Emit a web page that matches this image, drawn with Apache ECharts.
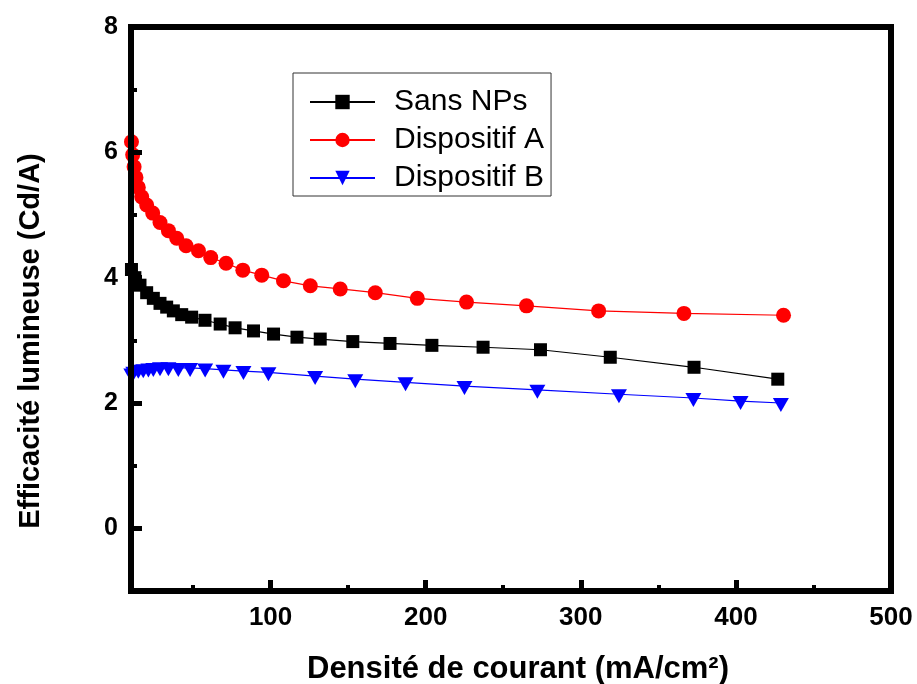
<!DOCTYPE html>
<html>
<head>
<meta charset="utf-8">
<script src="https://cdn.jsdelivr.net/npm/echarts@6/dist/echarts.min.js"></script>
<style>
html,body{margin:0;padding:0;background:#fff;}
#chart{width:917px;height:684px;}
</style>
</head>
<body>
<div id="chart"></div>
<script>
const seriesNames = ['Sans NPs', 'Dispositif A', 'Dispositif B'];

const sansNPs = [
  [10.3, 4.13], [12.5, 4.00], [15.8, 3.88], [20.1, 3.76], [24.4, 3.67], [28.7, 3.59],
  [33.0, 3.53], [37.3, 3.47], [42.7, 3.41], [49.1, 3.37], [57.7, 3.32], [67.5, 3.26],
  [77.1, 3.20], [89.0, 3.15], [101.9, 3.10], [117.0, 3.05], [132.0, 3.02], [153.0, 2.98],
  [177.0, 2.95], [204.0, 2.92], [237.0, 2.89], [274.0, 2.85], [319.0, 2.73], [373.0, 2.57],
  [427.0, 2.38]
];

const dispositifA = [
  [10.3, 6.17], [11.1, 5.96], [12.0, 5.77], [13.2, 5.60], [14.7, 5.44], [16.9, 5.29],
  [20.1, 5.16], [24.0, 5.03], [28.7, 4.88], [34.1, 4.75], [39.5, 4.63], [45.5, 4.51],
  [53.5, 4.43], [61.4, 4.32], [71.3, 4.23], [82.1, 4.12], [94.3, 4.04], [108.3, 3.95],
  [125.6, 3.87], [144.9, 3.82], [167.5, 3.76], [194.6, 3.67], [226.3, 3.61], [265.0, 3.55],
  [311.5, 3.47], [366.5, 3.43], [430.7, 3.40]
];

const dispositifB = [
  [10.2, 2.47], [11.5, 2.50], [14.7, 2.53], [17.9, 2.54], [21.2, 2.55], [24.4, 2.56],
  [28.7, 2.57], [34.1, 2.57], [40.5, 2.56], [48.1, 2.56], [57.8, 2.55], [69.6, 2.53],
  [82.5, 2.51], [98.6, 2.49], [128.7, 2.43], [154.6, 2.38], [187.0, 2.33], [225.0, 2.27],
  [272.0, 2.21], [324.6, 2.14], [372.6, 2.08], [403.0, 2.03], [429.0, 2.00]
];

const xMajorTicks = [100, 200, 300, 400, 500];
const xMinorTicks = [50, 150, 250, 350, 450];
const yMajorTicks = [0, 2, 4, 6, 8];
const yMinorTicks = [1, 3, 5, 7];

const chart = echarts.init(document.getElementById('chart'), null, {renderer: 'canvas'});
const FONT = '"Liberation Sans", Arial, sans-serif';

const option = {
  backgroundColor: '#ffffff',
  animation: false,
  grid: {
    left: 131, right: 26, top: 27, bottom: 93,
    containLabel: false, outerBoundsMode: 'none',
    show: true, borderColor: '#000', borderWidth: 6, backgroundColor: 'transparent'
  },
  legend: {
    orient: 'vertical',
    left: 293, top: 73,
    borderColor: '#333', borderWidth: 1,
    padding: [14, 7, 3, 16],
    itemGap: 8,
    itemWidth: 65, itemHeight: 18,
    textStyle: {fontFamily: FONT, fontSize: 30, color: '#000', padding: [0, 0, 0, 14]},
    data: seriesNames
  },
  xAxis: [
    {
      type: 'value', min: 10, max: 500, position: 'bottom', z: 5,
      name: 'Densité de courant (mA/cm²)', nameLocation: 'middle', nameGap: 63,
      nameTextStyle: {fontFamily: FONT, fontSize: 31, fontWeight: 'bold', color: '#000', padding: [0, 0, 0, 14]},
      axisLine: {show: true, onZero: false, lineStyle: {color: '#000', width: 6}},
      axisTick: {show: true, inside: true, length: 11, lineStyle: {color: '#000', width: 5}, customValues: xMajorTicks},
      axisLabel: {show: true, margin: 14, fontFamily: FONT, fontSize: 26, fontWeight: 'bold', color: '#000', customValues: xMajorTicks},
      splitLine: {show: false}
    },
    {
      type: 'value', min: 10, max: 500, position: 'bottom', z: 5,
      axisLine: {show: false, onZero: false},
      axisTick: {show: true, inside: true, length: 6, lineStyle: {color: '#000', width: 4}, customValues: xMinorTicks},
      axisLabel: {show: false},
      splitLine: {show: false}
    }
  ],
  yAxis: [
    {
      type: 'value', min: -1, max: 8, interval: 1, position: 'left', z: 5,
      name: 'Efficacité lumineuse (Cd/A)', nameLocation: 'middle', nameGap: 86, nameRotate: 90,
      nameTextStyle: {fontFamily: FONT, fontSize: 29, fontWeight: 'bold', color: '#000', padding: [0, 64, 0, 0]},
      axisLine: {show: true, onZero: false, lineStyle: {color: '#000', width: 6}},
      axisTick: {show: true, inside: true, length: 11, lineStyle: {color: '#000', width: 5}, customValues: yMajorTicks},
      axisLabel: {show: true, margin: 13, fontFamily: FONT, fontSize: 25, fontWeight: 'bold', color: '#000', customValues: yMajorTicks},
      splitLine: {show: false}
    },
    {
      type: 'value', min: -1, max: 8, interval: 1, position: 'left', z: 5,
      axisLine: {show: false, onZero: false},
      axisTick: {show: true, inside: true, length: 6, lineStyle: {color: '#000', width: 4}, customValues: yMinorTicks},
      axisLabel: {show: false},
      splitLine: {show: false}
    }
  ],
  series: [
    {
      name: seriesNames[0], type: 'line', data: sansNPs,
      xAxisIndex: 0, yAxisIndex: 0,
      symbol: 'rect', symbolSize: 13,
      lineStyle: {color: '#000', width: 1.2},
      itemStyle: {color: '#000'}, z: 2
    },
    {
      name: seriesNames[1], type: 'line', data: dispositifA,
      xAxisIndex: 0, yAxisIndex: 0,
      symbol: 'circle', symbolSize: 15,
      lineStyle: {color: '#ff0000', width: 1.2},
      itemStyle: {color: '#ff0000'}, z: 2
    },
    {
      name: seriesNames[2], type: 'line', data: dispositifB,
      xAxisIndex: 0, yAxisIndex: 0,
      symbol: 'triangle', symbolRotate: 180, symbolSize: [16, 14], symbolOffset: [0, 2],
      lineStyle: {color: '#0000ff', width: 1.2},
      itemStyle: {color: '#0000ff'}, z: 2
    }
  ]
};
chart.setOption(option);
</script>
</body>
</html>
